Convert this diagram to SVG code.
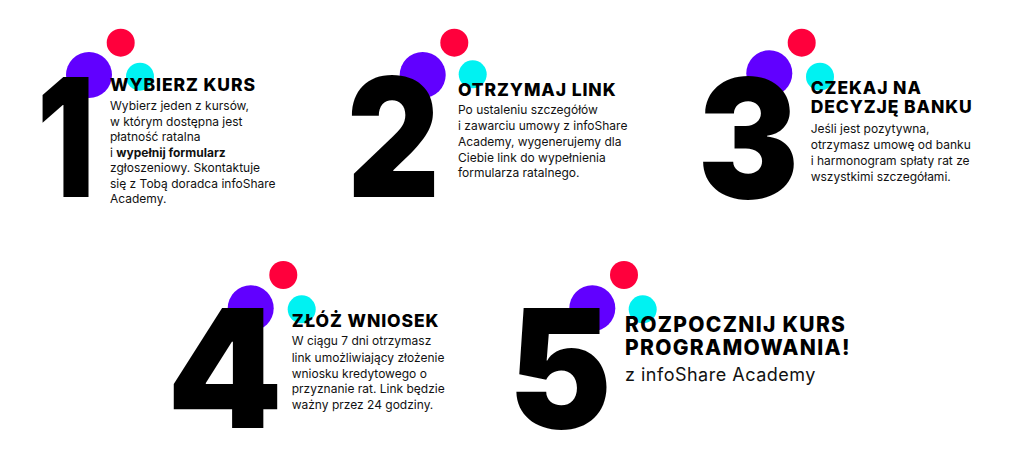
<svg xmlns="http://www.w3.org/2000/svg" width="1024" height="454" viewBox="0 0 1024 454">
<style>
.red{fill:#ff003c}
.pur{fill:#6100ff}
.cya{fill:#00f2f2}
.dig{font-family:Inter,"Liberation Sans",sans-serif;font-weight:900;font-size:165px;fill:#000}
.ttl{font-family:Inter,"Liberation Sans",sans-serif;font-weight:800;font-size:17.5px;letter-spacing:0.9px;fill:#000}
.ttl5{font-family:Inter,"Liberation Sans",sans-serif;font-weight:800;font-size:21px;letter-spacing:1.3px;fill:#000}
.bod{font-family:Inter,"Liberation Sans",sans-serif;font-weight:400;font-size:12px;fill:#111}
.sub{font-family:Inter,"Liberation Sans",sans-serif;font-weight:400;font-size:18px;letter-spacing:0.5px;fill:#111}
</style>
<rect width="1024" height="454" fill="#fff"/>
<g id="step1">
<circle class="red" cx="120.7" cy="42.7" r="14"/>
<circle class="pur" cx="89" cy="75" r="23"/>
<circle class="cya" cx="140" cy="76.7" r="14"/>
<text class="dig" transform="translate(37,197) scale(0.77,1)">1</text>
<text class="ttl" x="110" y="91">WYBIERZ KURS</text>
<text class="bod" x="110" y="110">Wybierz jeden z kursów,</text>
<text class="bod" x="110" y="126">w którym dostępna jest</text>
<text class="bod" x="110" y="141">płatność ratalna</text>
<text class="bod" x="110" y="157">i <tspan font-weight="700">wypełnij formularz</tspan></text>
<text class="bod" x="110" y="172">zgłoszeniowy. Skontaktuje</text>
<text class="bod" x="110" y="187.5">się z Tobą doradca infoShare</text>
<text class="bod" x="110" y="203">Academy.</text>
</g>
<g id="step2">
<circle class="red" cx="454.3" cy="42.7" r="14"/>
<circle class="pur" cx="422.7" cy="75" r="23"/>
<circle class="cya" cx="472.7" cy="74.3" r="14"/>
<text class="dig" transform="translate(347,197) scale(0.87,1)">2</text>
<text class="ttl" x="458" y="96">OTRZYMAJ LINK</text>
<text class="bod" x="458" y="113.5">Po ustaleniu szczegółów</text>
<text class="bod" x="458" y="130">i zawarciu umowy z infoShare</text>
<text class="bod" x="458" y="146">Academy, wygenerujemy dla</text>
<text class="bod" x="458" y="161.5">Ciebie link do wypełnienia</text>
<text class="bod" x="458" y="177">formularza ratalnego.</text>
</g>
<g id="step3">
<circle class="red" cx="801.7" cy="42.7" r="14"/>
<circle class="pur" cx="769.3" cy="73.3" r="23"/>
<circle class="cya" cx="820" cy="76.7" r="14"/>
<text class="dig" transform="translate(697.6,198) scale(0.92,1)">3</text>
<text class="ttl" x="810.7" y="94">CZEKAJ NA</text>
<text class="ttl" x="810.7" y="112.7">DECYZJĘ BANKU</text>
<text class="bod" x="810.7" y="133.3">Jeśli jest pozytywna,</text>
<text class="bod" x="810.7" y="149.3">otrzymasz umowę od banku</text>
<text class="bod" x="810.7" y="165">i harmonogram spłaty rat ze</text>
<text class="bod" x="810.7" y="180.5">wszystkimi szczegółami.</text>
</g>
<g id="step4">
<circle class="red" cx="283.3" cy="275" r="14"/>
<circle class="pur" cx="250.7" cy="308.3" r="23"/>
<circle class="cya" cx="301.7" cy="309.3" r="14"/>
<text class="dig" x="167" y="428">4</text>
<text class="ttl" x="291.7" y="326.7">ZŁÓŻ WNIOSEK</text>
<text class="bod" x="291.7" y="345">W ciągu 7 dni otrzymasz</text>
<text class="bod" x="291.7" y="362">link umożliwiający złożenie</text>
<text class="bod" x="291.7" y="377.7">wniosku kredytowego o</text>
<text class="bod" x="291.7" y="393.3">przyznanie rat. Link będzie</text>
<text class="bod" x="291.7" y="408.5">ważny przez 24 godziny.</text>
</g>
<g id="step5">
<circle class="red" cx="624" cy="275" r="14"/>
<circle class="pur" cx="592.3" cy="308.3" r="23"/>
<circle class="cya" cx="642.7" cy="309.3" r="14"/>
<text class="dig" transform="translate(508.6,428) scale(0.94,1)">5</text>
<text class="ttl5" x="625" y="332">ROZPOCZNIJ KURS</text>
<text class="ttl5" x="625" y="355">PROGRAMOWANIA!</text>
<text class="sub" x="625" y="381">z infoShare Academy</text>
</g>
<g id="connectors"/>
</svg>
